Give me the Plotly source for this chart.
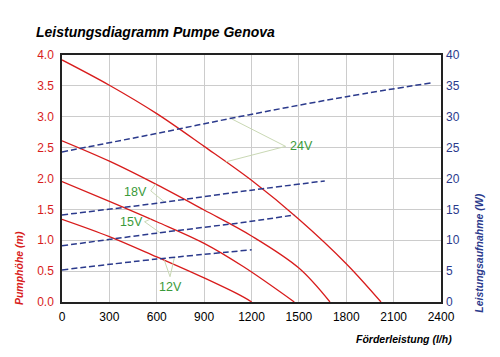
import numpy as np
import plotly.graph_objects as go

# ---------------- data ----------------
voltages = ["24V", "18V", "15V", "12V"]

# Head curves (Pumphöhe, m) vs. flow (l/h)
head_flow = {
    "24V": [0, 300, 600, 900, 1200, 1500, 1800, 2020],
    "18V": [0, 300, 600, 900, 1200, 1500, 1697],
    "15V": [0, 300, 600, 900, 1150, 1471],
    "12V": [0, 300, 600, 900, 1150, 1201],
}
head_m = {
    "24V": [3.92, 3.51, 3.05, 2.52, 1.97, 1.34, 0.62, 0.0],
    "18V": [2.61, 2.28, 1.90, 1.49, 1.07, 0.55, 0.0],
    "15V": [1.95, 1.63, 1.30, 0.95, 0.57, 0.0],
    "12V": [1.34, 1.06, 0.73, 0.39, 0.08, 0.0],
}

# Power curves (Leistungsaufnahme, W) vs. flow (l/h)
power_flow = {
    "24V": [0, 600, 1180, 1800, 2340],
    "18V": [0, 600, 1180, 1664],
    "15V": [0, 600, 1180, 1471],
    "12V": [0, 600, 1201],
}
power_w = {
    "24V": [24.3, 27.3, 30.3, 33.25, 35.5],
    "18V": [14.1, 16.0, 18.05, 19.6],
    "15V": [9.1, 11.15, 13.0, 14.1],
    "12V": [5.2, 6.95, 8.45],
}

x_ticks = [0, 300, 600, 900, 1200, 1500, 1800, 2100, 2400]
y_ticks = [0.0, 0.5, 1.0, 1.5, 2.0, 2.5, 3.0, 3.5, 4.0]
y2_ticks = [0, 5, 10, 15, 20, 25, 30, 35, 40]

# callout labels: text position, leader vertex, and flows where leaders touch the curves
label_pos = {"24V": (1430, 2.52), "18V": (463, 1.78), "15V": (437, 1.29), "12V": (688, 0.25)}
label_anchor = {"24V": "left", "18V": "center", "15V": "center", "12V": "center"}
leader_vertex = {"24V": (1416, 2.52), "18V": (562, 1.80), "15V": (523, 1.30), "12V": (684, 0.41)}
leader_head_flow = {"24V": 1037, "18V": 592, "15V": 561, "12V": 648}
leader_power_flow = {"24V": 1069, "18V": 650, "15V": 620, "12V": 712}

# ---------------- styles ----------------
RED = "#d81c1c"
NAVY = "#2b3a8c"
GREEN = "#3a9a3a"
LEADER = "#c9d8b4"
GRID = "#cccccc"
FONT = "Liberation Sans, Arial, sans-serif"

fig = go.Figure()

for v in voltages:
    fig.add_trace(go.Scatter(
        x=head_flow[v], y=head_m[v], mode="lines",
        line=dict(color=RED, width=1.3, shape="spline", smoothing=1.0),
        hoverinfo="skip", showlegend=False, yaxis="y"))

for v in voltages:
    fig.add_trace(go.Scatter(
        x=power_flow[v], y=power_w[v], mode="lines",
        line=dict(color=NAVY, width=1.5, dash="6px,3px", shape="spline", smoothing=1.0),
        hoverinfo="skip", showlegend=False, yaxis="y2"))

# leader lines (drawn in left-axis units: 1 m == 10 W)
for v in voltages:
    hx = leader_head_flow[v]
    hy = float(np.interp(hx, head_flow[v], head_m[v]))
    px = leader_power_flow[v]
    py = float(np.interp(px, power_flow[v], power_w[v])) / 10.0
    vx, vy = leader_vertex[v]
    fig.add_trace(go.Scatter(
        x=[hx, vx, px], y=[hy, vy, py], mode="lines",
        line=dict(color=LEADER, width=1),
        hoverinfo="skip", showlegend=False, yaxis="y"))

annotations = []
for v in voltages:
    lx, ly = label_pos[v]
    annotations.append(dict(
        x=lx, y=ly, xref="x", yref="y", text=v, showarrow=False,
        xanchor=label_anchor[v], yanchor="middle",
        font=dict(family=FONT, size=12.5, color=GREEN)))

annotations += [
    dict(text="<b><i>Leistungsdiagramm Pumpe Genova</i></b>", x=-0.073, y=1.093,
         xref="paper", yref="paper", xanchor="left", yanchor="middle", showarrow=False,
         font=dict(family=FONT, size=14, color="#000000")),
    dict(text="<b><i>Pumphöhe (m)</i></b>", x=-0.113, y=-0.02, xref="paper", yref="paper",
         textangle=-90, showarrow=False, xanchor="center", yanchor="bottom",
         font=dict(family=FONT, size=10.5, color=RED)),
    dict(text="<b><i>Leistungsaufnahme (W)</i></b>", x=1.10, y=-0.052, xref="paper", yref="paper",
         textangle=-90, showarrow=False, xanchor="center", yanchor="bottom",
         font=dict(family=FONT, size=10.5, color=NAVY)),
    dict(text="<b><i>Förderleistung (l/h)</i></b>", x=1.035, y=-0.149, xref="paper", yref="paper",
         showarrow=False, xanchor="right", yanchor="middle",
         font=dict(family=FONT, size=10.5, color="#000000")),
]

# The page body has an 8px default margin, so the figure is shrunk by 8px
# and the left/top margins reduced by 8px to land the plot area where intended.
fig.update_layout(
    width=492, height=349,
    margin=dict(l=54, r=59, t=47, b=55, autoexpand=False),
    paper_bgcolor="white", plot_bgcolor="white",
    font=dict(family=FONT, size=12),
    xaxis=dict(range=[0, 2400], tickvals=x_ticks, ticktext=[str(t) for t in x_ticks],
               showgrid=True, gridcolor=GRID, gridwidth=1, zeroline=False, automargin=False,
               showline=True, mirror=True, linecolor="#222222", linewidth=1.5,
               ticks="", ticklabelstandoff=3,
               tickfont=dict(family=FONT, size=12, color="#000000")),
    yaxis=dict(range=[0, 4], tickvals=y_ticks, ticktext=[f"{t:.1f}" for t in y_ticks],
               showgrid=True, gridcolor=GRID, gridwidth=1, zeroline=False, automargin=False,
               showline=True, mirror=True, linecolor="#222222", linewidth=1.5,
               ticks="", ticklabelstandoff=4,
               tickfont=dict(family=FONT, size=12, color=RED)),
    yaxis2=dict(range=[0, 40], tickvals=y2_ticks, ticktext=[str(t) for t in y2_ticks],
                overlaying="y", side="right", showgrid=False, zeroline=False, automargin=False,
                showline=False, ticks="", ticklabelstandoff=4,
                tickfont=dict(family=FONT, size=12, color=NAVY)),
    annotations=annotations,
)

fig.write_html("out.html")
